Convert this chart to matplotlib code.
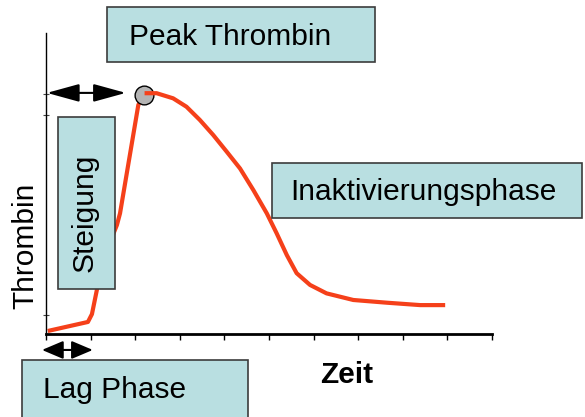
import matplotlib
matplotlib.use('Agg')
import matplotlib.pyplot as plt
from matplotlib.patches import Rectangle, FancyArrowPatch
import numpy as np

# thrombin generation curve
zeit = [0.04, 0.94, 1.03, 1.14, 1.21, 1.59, 1.66, 2.07, 2.21,
        2.48, 2.85, 3.15, 3.45, 3.75, 4.05, 4.35, 4.65, 4.95, 5.17,
        5.40, 5.62, 5.92, 6.29, 6.89, 7.64, 8.39, 8.95]
thrombin = [1.0, 4.0, 6.6, 14.6, 22.3, 36.2, 40.1, 76.1, 80.0,
            80.0, 78.3, 75.5, 71.1, 66.1, 60.6, 55.0, 47.8, 40.1, 33.5,
            26.2, 20.2, 16.3, 13.5, 11.3, 10.4, 9.6, 9.6]
peak_idx = 8
peak_mark = (2.20, 79.3)
lag_phase = [-0.09, 1.05]
peak_time = [0.02, 1.79]
peak_level = 80.1
x_ticks = np.arange(0, 11)
y_ticks = [6.3, 72.8, 79.7]

plt.rcParams['font.family'] = ['Liberation Sans', 'DejaVu Sans']

W, H = 585, 417
fig = plt.figure(figsize=(W / 100, H / 100), dpi=100)
ax = fig.add_axes([46 / W, (H - 334) / H, 446 / W, 301 / H])
ax.set_xlim(0, 10)
ax.set_ylim(0, 100)

red = '#f5401a'
ax.plot(zeit[:peak_idx + 1], thrombin[:peak_idx + 1], color=red, lw=3, zorder=2,
        solid_capstyle='butt', solid_joinstyle='round')
ax.plot(*peak_mark, 'o', ms=13.5, mfc='#b4b4b4',
        mec='black', mew=1, ls='none', zorder=3)
ax.plot(zeit[peak_idx:], thrombin[peak_idx:], color=red, lw=3, zorder=4,
        solid_capstyle='butt', solid_joinstyle='round')

for s in ['top', 'right']:
    ax.spines[s].set_visible(False)
ax.spines['bottom'].set_linewidth(2)
ax.spines['left'].set_linewidth(1)
ax.set_xticks(x_ticks)
ax.set_xticklabels([])
ax.set_yticks(y_ticks)
ax.set_yticklabels([])
ax.tick_params(axis='x', direction='out', length=4, width=1)
ax.tick_params(axis='y', direction='inout', length=4, width=0.8, color='#444444')

# arrows
def arrow(x0, x1, y, hl, hw):
    a = FancyArrowPatch((x0, y), (x1, y), arrowstyle=f'<|-|>,head_length={hl},head_width={hw}',
                        mutation_scale=1, color='black', lw=1.5, clip_on=False, zorder=5,
                        shrinkA=0, shrinkB=0)
    ax.add_patch(a)

arrow(peak_time[0], peak_time[1], peak_level, 20, 5.5)
arrow(lag_phase[0], lag_phase[1], -5.3, 13, 5.5)

# boxes in pixel positions
box_c = '#b9dfe1'
def box(x0, y0, x1, y1):
    fig.add_artist(Rectangle((x0 / W, 1 - y1 / H), (x1 - x0) / W, (y1 - y0) / H,
                             transform=fig.transFigure, facecolor=box_c,
                             edgecolor='#3c3c3c', lw=1.2, zorder=1, clip_on=False))

def label(x, y, s, **kw):
    fig.text(x / W, 1 - y / H, s, fontsize=21.5, color='black', zorder=3, **kw)

box(107, 7, 375, 62)
label(129, 45, 'Peak Thrombin', ha='left', va='baseline')
box(272, 163, 582, 218)
label(290, 200, 'Inaktivierungsphase', ha='left', va='baseline')
box(22, 360, 248, 430)
label(43, 398, 'Lag Phase', ha='left', va='baseline')
box(58, 117, 115, 289)
label(93, 213, 'Steigung', ha='center', va='baseline', rotation=90, rotation_mode='anchor')

label(33, 246, 'Thrombin', ha='center', va='baseline', rotation=90, rotation_mode='anchor')
label(347, 383, 'Zeit', ha='center', va='baseline', fontweight='bold')

fig.savefig('out.png', dpi=100)
